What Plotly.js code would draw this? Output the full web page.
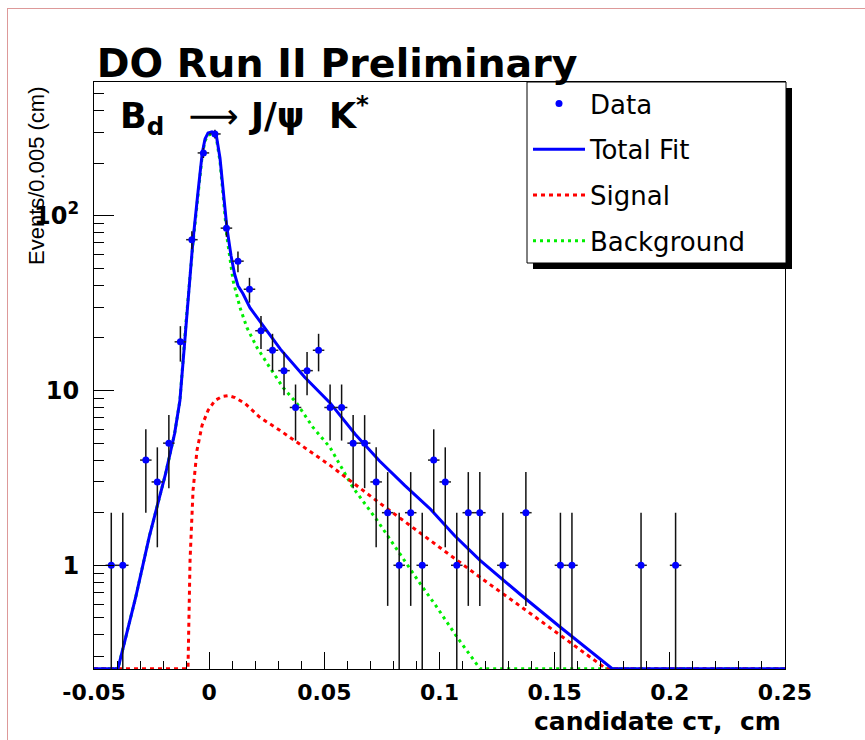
<!DOCTYPE html>
<html>
<head>
<meta charset="utf-8">
<script src="https://cdn.plot.ly/plotly-3.0.1.min.js"></script>
<style>
html,body{margin:0;padding:0;background:#fff;}
#chart{width:865px;height:740px;}
#frame{position:absolute;left:7px;top:8px;width:858px;height:732px;border-left:1px solid #d99;border-top:1px solid #d99;pointer-events:none;}
</style>
</head>
<body>
<div id="chart"></div>
<div id="frame"></div>
<script>
// ---- Data ----
const binCenters = [-0.0425,-0.0375,-0.0275,-0.0225,-0.0175,-0.0125,-0.0075,-0.0025,0.0025,0.0075,
  0.0125,0.0175,0.0225,0.0275,0.0325,0.0375,0.0425,0.0475,0.0525,0.0575,
  0.0625,0.0675,0.0725,0.0775,0.0825,0.0875,0.0925,0.0975,0.1025,0.1075,
  0.1125,0.1175,0.1275,0.1375,0.1525,0.1575,0.1875,0.2025];
const counts = [1,1,4,3,5,19,73,229,294,85,
  55,38,22,17,13,8,13,17,8,8,
  5,5,3,2,1,2,1,4,3,1,
  2,2,1,2,1,1,1,1];
const binHalfWidth = 0.0025;

// Total fit
const fitX = [-0.05,-0.0396,-0.032,-0.026,-0.019,-0.015,-0.0127,-0.010,-0.007,-0.0048,
  -0.003,-0.0018,-0.0005,0.0012,0.003,0.0047,0.0064,0.0077,0.0095,0.011,
  0.0125,0.0147,0.0177,0.021,0.025,0.031,0.0415,0.0525,0.0635,0.074,
  0.085,0.096,0.1065,0.1175,0.135,0.1525,0.175,0.25];
const fitY = [0.256,0.256,0.648,1.46,3.31,5.68,8.77,25.1,72.9,139,
  229,275,298,302,294,214,122,85.4,59,46.6,
  39.8,35.8,29.8,25.8,22.0,17.2,11.9,8.5,5.6,3.95,
  2.86,2.1,1.48,1.07,0.683,0.442,0.256,0.256];

// Signal
const sigX = [-0.05,-0.0092,-0.0083,-0.0070,-0.0053,-0.0031,-0.0005,0.0025,0.0056,0.0082,
  0.0112,0.0156,0.0221,0.0308,0.0525,0.0742,0.0959,0.1176,0.1393,0.1610,
  0.1710,0.1723,0.25];
const sigY = [0.256,0.256,1.07,2.68,4.54,6.31,7.69,8.77,9.24,9.36,
  9.12,8.43,7.01,5.91,3.73,2.26,1.39,0.854,0.532,0.327,
  0.261,0.256,0.256];

// Background
const bkgX = [-0.05,-0.0396,-0.032,-0.026,-0.019,-0.015,-0.0127,-0.010,-0.007,-0.0048,
  -0.003,-0.0018,-0.0005,0.0012,0.003,0.0047,0.0064,0.0077,0.0104,0.0134,
  0.0164,0.0208,0.0264,0.0321,0.0381,0.0451,0.0525,0.0624,0.0729,0.0816,
  0.0915,0.0989,0.1076,0.1176,0.25];
const bkgY = [0.256,0.256,0.648,1.46,3.31,5.68,8.77,25.1,70.2,134,
  223,268,290,294,285,205,113,76,42.5,29.8,
  22.9,17.6,13.5,10.4,8.43,6.15,4.72,2.79,1.81,1.22,
  0.789,0.575,0.388,0.256,0.256];

// Axis ticks
const xTickVals = [-0.05,0,0.05,0.1,0.15,0.2,0.25];
const xTickText = ['-0.05','0','0.05','0.1','0.15','0.2','0.25'];
const yTickVals = [1,10,100];
const yTickText = ['1','10','10<sup>2</sup>'];
const yMinorVals = [0.3,0.4,0.5,0.6,0.7,0.8,0.9,2,3,4,5,6,7,8,9,20,30,40,50,60,70,80,90,200,300,400,500];

// ---- geometry helpers (pixel layout of the frame) ----
const W = 865, H = 740;
const L = 94, R = 785, T = 82, B = 669;
const px = v => (v - L) / (R - L);
const py = v => (B - v) / (B - T);

const traces = [
  {x: bkgX, y: bkgY, type:'scatter', mode:'lines', name:'Background', legendgroup:'bkg', legendrank:4,
   line:{color:'#00ee00', width:3, dash:'3px,4px'}, hoverinfo:'skip'},
  {x: sigX, y: sigY, type:'scatter', mode:'lines', name:'Signal', legendgroup:'sig', legendrank:3,
   line:{color:'#ff0000', width:3, dash:'4px,4px'}, hoverinfo:'skip'},
  {x: fitX, y: fitY, type:'scatter', mode:'lines', name:'Total Fit', legendgroup:'fit', legendrank:2,
   line:{color:'#0000ff', width:3}, hoverinfo:'skip'},
  {x: binCenters, y: counts, type:'scatter', mode:'markers', name:'Data', legendgroup:'data', legendrank:1,
   marker:{color:'#0000ff', size:7, symbol:'circle'},
   error_y:{type:'sqrt', color:'#111', thickness:1.5, width:0},
   error_x:{type:'constant', value:binHalfWidth, color:'#222', thickness:1.5, width:0}}
];

const xTickFont = {family:'DejaVu Sans', size:22, weight:'bold', color:'#000'};
const yTickFont = {family:'DejaVu Sans', size:24, weight:'bold', color:'#000'};

const layout = {
  width: W, height: H,
  margin: {l:L, r:W-R, t:T, b:H-B, pad:0},
  paper_bgcolor:'#fff', plot_bgcolor:'#fff',
  showlegend:true,
  title: {text:'DO Run II Preliminary', font:{family:'DejaVu Sans', size:39.5, weight:'bold', color:'#000'},
          xref:'paper', x:0.004, xanchor:'left', yref:'container', y:1-63/H, yanchor:'middle'},
  xaxis: {range:[-0.05,0.25], tickmode:'array', tickvals:xTickVals, ticktext:xTickText,
          ticks:'inside', ticklen:17, tickwidth:1, tickcolor:'#000',
          showline:true, linecolor:'#000', linewidth:1, mirror:true,
          showgrid:false, zeroline:false, tickfont:xTickFont, ticklabelstandoff:4,
          minor:{tickmode:'linear', tick0:0, dtick:0.01, ticks:'inside', ticklen:8, tickwidth:1, tickcolor:'#000', showgrid:false}},
  yaxis: {type:'log', range:[Math.log10(0.255), Math.log10(583)], tickmode:'array', tickvals:yTickVals, ticktext:yTickText,
          ticks:'inside', ticklen:20, tickwidth:1, tickcolor:'#000',
          showline:true, linecolor:'#000', linewidth:1, mirror:true,
          showgrid:false, zeroline:false, tickfont:yTickFont, ticklabelstandoff:9,
          minor:{tickmode:'array', tickvals:yMinorVals, ticks:'inside', ticklen:10, tickwidth:1, tickcolor:'#000', showgrid:false}},
  legend: {x:px(528), xanchor:'left', y:py(80), yanchor:'top', bgcolor:'rgba(0,0,0,0)', borderwidth:0,
           font:{family:'DejaVu Sans', size:26, color:'#000'}, itemwidth:52,
           traceorder:'grouped', tracegroupgap:9},
  shapes: [
    {type:'rect', xref:'paper', yref:'paper', x0:px(533), x1:px(792), y0:py(269), y1:py(88),
     fillcolor:'#000', line:{width:0}, layer:'above'},
    {type:'rect', xref:'paper', yref:'paper', x0:px(527), x1:px(786), y0:py(263), y1:py(82),
     fillcolor:'#fff', line:{color:'#000', width:1}, layer:'above'}
  ],
  annotations: [
    {xref:'paper', yref:'paper', x:px(118), y:py(115), xanchor:'left', yanchor:'middle', showarrow:false,
     text:'B<sub>d</sub>\u00a0 <span style="font-weight:normal">⟶</span> J/ψ\u00a0 K<sup>*</sup>',
     font:{family:'DejaVu Sans', size:35, weight:'bold', color:'#000'}},
    {xref:'paper', yref:'paper', x:px(783), y:py(721), xanchor:'right', yanchor:'middle', showarrow:false,
     text:'candidate cτ,\u00a0 cm', font:{family:'DejaVu Sans', size:25, weight:'bold', color:'#000'}},
    {xref:'paper', yref:'paper', x:px(36), y:py(176), xanchor:'center', yanchor:'middle', showarrow:false,
     textangle:-90, text:'Events/0.005 (cm)', font:{family:'Liberation Sans, Arial', size:22, color:'#000'}}
  ]
};

Plotly.newPlot('chart', traces, layout, {displayModeBar:false, staticPlot:true});
</script>
</body>
</html>
